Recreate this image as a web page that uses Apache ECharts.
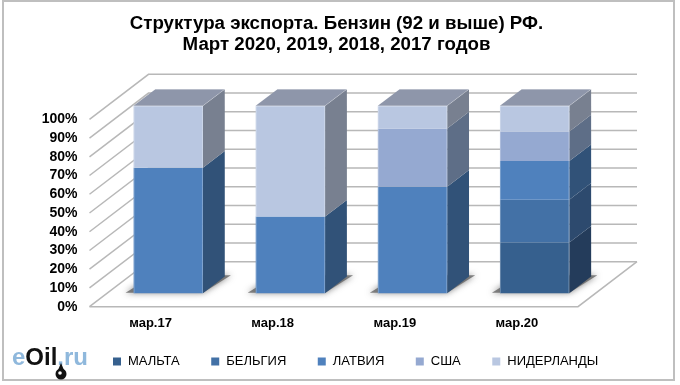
<!DOCTYPE html>
<html>
<head>
<meta charset="utf-8">
<title>Структура экспорта</title>
<script src="https://cdn.jsdelivr.net/npm/echarts@6/dist/echarts.min.js"></script>
<style>
  html, body { margin: 0; padding: 0; background: #fff; }
  #main { width: 680px; height: 385px; }
</style>
</head>
<body>
<div id="main"></div>
<script>
// данные
const categories = ['мар.17', 'мар.18', 'мар.19', 'мар.20']
const malta = [0, 0, 0, 27]
const belgium = [0, 0, 0, 22.9]
const latvia = [67, 40.9, 56.8, 20.6]
const usa = [0, 0, 31.1, 15.8]
const netherlands = [33, 59.1, 12.1, 13.7]

const layers = [
  { name: 'МАЛЬТА', values: malta, front: '#36608e', side: '#243c5b' },
  { name: 'БЕЛЬГИЯ', values: belgium, front: '#4371a6', side: '#2d4a6e' },
  { name: 'ЛАТВИЯ', values: latvia, front: '#4f81bd', side: '#315278' },
  { name: 'США', values: usa, front: '#95a9d1', side: '#5e6e87' },
  { name: 'НИДЕРЛАНДЫ', values: netherlands, front: '#b9c7e1', side: '#788090' },
]

// псевдо-3D: глубина пола и положение столбика на нём
const depthX = 59
const depthY = -45
const barShift = 0.3
const barDepth = 0.37
const barRatio = 0.568
const gridColor = '#b8b8b8'

function bandEdges(api) {
  const band = api.size([1, 0])[0]
  return {
    left: api.coord([0, 0])[0] - band / 2,
    right: api.coord([categories.length - 1, 0])[0] + band / 2,
  }
}

function renderWall(params, api) {
  const value = api.value(0)
  const y = api.coord([0, value])[1]
  const { left, right } = bandEdges(api)
  const style = { stroke: gridColor, lineWidth: 1.5, fill: null }
  const points = [
    [left, y],
    [left + depthX, y + depthY],
    [right + depthX, y + depthY],
  ]
  const children = [{ type: 'polyline', shape: { points }, style }]
  if (value === 0) {
    children.push({
      type: 'polyline',
      shape: {
        points: [
          [left, y],
          [right, y],
          [right + depthX, y + depthY],
        ],
      },
      style,
    })
  }
  return { type: 'group', children }
}

function renderShadow(params, api) {
  const [cx, y0] = api.coord([api.value(0), 0])
  const w = api.size([1, 0])[0] * barRatio
  const x = cx - w / 2 + depthX * barShift
  const y = y0 + depthY * barShift
  return {
    type: 'polygon',
    shape: {
      points: [
        [x - 8, y - 0.5],
        [x + w, y - 0.5],
        [x + w + 28, y - 18],
        [x + 20, y - 18],
      ],
    },
    style: {
      fill: 'rgba(100,100,100,0.8)',
      shadowBlur: 6,
      shadowColor: 'rgba(60,60,60,0.8)',
    },
  }
}

function renderLayer(layer) {
  return function (params, api) {
    const cat = api.value(0)
    const from = api.value(1)
    const to = api.value(2)
    if (to <= from) return null
    const cx = api.coord([cat, 0])[0]
    const w = api.size([1, 0])[0] * barRatio
    const sx = depthX * barShift
    const sy = depthY * barShift
    const dx = depthX * barDepth
    const dy = depthY * barDepth
    const x0 = cx - w / 2 + sx
    const x1 = x0 + w
    const yb = api.coord([cat, from])[1] + sy
    const yt = api.coord([cat, to])[1] + sy
    const children = [
      {
        type: 'polygon',
        shape: {
          points: [
            [x1, yb],
            [x1 + dx, yb + dy],
            [x1 + dx, yt + dy],
            [x1, yt],
          ],
        },
        style: { fill: layer.side },
      },
      {
        type: 'rect',
        shape: { x: x0, y: yt, width: w, height: yb - yt },
        style: { fill: layer.front },
      },
      // светлый скос по краям столбика
      {
        type: 'polyline',
        shape: {
          points: [
            [x0 + 0.5, yb],
            [x0 + 0.5, yt],
          ],
        },
        style: { stroke: 'rgba(255,255,255,0.25)', lineWidth: 1, fill: null },
      },
      {
        type: 'polyline',
        shape: {
          points: [
            [x1 - 0.5, yb],
            [x1 - 0.5, yt],
          ],
        },
        style: { stroke: 'rgba(255,255,255,0.25)', lineWidth: 1, fill: null },
      },
    ]
    if (to >= 99.9) {
      children.push(
        {
          type: 'polygon',
          shape: {
            points: [
              [x0, yt],
              [x1, yt],
              [x1 + dx, yt + dy],
              [x0 + dx, yt + dy],
            ],
          },
          style: { fill: '#8e96aa' },
        },
        {
          type: 'polyline',
          shape: {
            points: [
              [x0 + dx, yt + dy],
              [x1 + dx, yt + dy],
              [x1, yt],
            ],
          },
          style: { stroke: 'rgba(255,255,255,0.22)', lineWidth: 1, fill: null },
        },
        {
          type: 'polyline',
          shape: {
            points: [
              [x0, yt + 0.5],
              [x1, yt + 0.5],
            ],
          },
          style: { stroke: 'rgba(255,255,255,0.3)', lineWidth: 1, fill: null },
        }
      )
    }
    return { type: 'group', children }
  }
}

// накопленные значения для стопки
const running = categories.map(() => 0)
const layerSeries = layers.map((layer) => {
  const data = layer.values.map((v, i) => {
    const item = [i, running[i], running[i] + v]
    running[i] += v
    return item
  })
  return {
    name: layer.name,
    type: 'custom',
    silent: true,
    z: 5,
    renderItem: renderLayer(layer),
    itemStyle: { color: layer.front },
    encode: { x: 0, y: 2 },
    data,
  }
})

const option = {
  animation: false,
  backgroundColor: '#fff',
  textStyle: { fontFamily: '"Liberation Sans", Arial, sans-serif' },
  title: {
    text: 'Структура экспорта. Бензин (92 и выше) РФ.\nМарт 2020, 2019, 2018, 2017 годов',
    left: 331.5,
    top: 9,
    textAlign: 'center',
    textStyle: {
      fontSize: 18.7,
      fontWeight: 'bold',
      color: '#000',
      lineHeight: 20.5,
    },
  },
  legend: {
    left: 113,
    top: 355,
    padding: 0,
    icon: 'rect',
    itemWidth: 8,
    itemHeight: 8,
    itemGap: 31.5,
    textStyle: {
      fontSize: 13,
      color: '#000',
      padding: [0, 0, 0, 2],
    },
    data: layers.map((l) => l.name),
  },
  grid: { left: 89.5, right: 102, top: 119.3, bottom: 78.3 },
  xAxis: {
    type: 'category',
    data: categories,
    axisLine: { show: false },
    axisTick: { show: false },
    axisLabel: { fontSize: 13, fontWeight: 'bold', color: '#000', margin: 10 },
  },
  yAxis: {
    type: 'value',
    min: 0,
    max: 100,
    interval: 10,
    splitLine: { show: false },
    axisLine: { show: false },
    axisTick: { show: false },
    axisLabel: {
      formatter: '{value}%',
      fontSize: 14,
      fontWeight: 'bold',
      color: '#000',
      margin: 12,
    },
  },
  graphic: [
    // рамка
    {
      type: 'rect',
      shape: { x: 3, y: 1, width: 671, height: 379 },
      style: { fill: null, stroke: '#bfbfbf', lineWidth: 2 },
      z: 10,
    },
    // логотип
    {
      type: 'text',
      left: 12,
      top: 346,
      z: 10,
      style: {
        text: '{a|e}{b|Oil}{a|.ru}',
        rich: {
          a: { fontSize: 24, fontWeight: 'bold', fontFamily: '"Liberation Sans"', fill: '#8fb8dc' },
          b: { fontSize: 24, fontWeight: 'bold', fontFamily: '"Liberation Sans"', fill: '#111' },
        },
      },
    },
    {
      type: 'circle',
      shape: { cx: 61, cy: 374, r: 5.5 },
      style: { fill: '#111' },
      z: 11,
    },
    {
      type: 'polygon',
      shape: {
        points: [
          [58, 370],
          [61, 363],
          [64, 370],
        ],
      },
      style: { fill: '#111' },
      z: 11,
    },
    {
      type: 'circle',
      shape: { cx: 60, cy: 373, r: 1.8 },
      style: { fill: '#fff' },
      z: 12,
    },
  ],
  series: [
    {
      type: 'custom',
      silent: true,
      z: 1,
      renderItem: renderWall,
      encode: { y: 0 },
      data: [0, 10, 20, 30, 40, 50, 60, 70, 80, 90, 100].map((t) => [t]),
    },
    {
      type: 'custom',
      silent: true,
      z: 2,
      renderItem: renderShadow,
      encode: { x: 0 },
      data: categories.map((c, i) => [i]),
    },
  ].concat(layerSeries),
}

const myChart = echarts.init(document.getElementById('main'), null, { renderer: 'canvas' })
myChart.setOption(option)
</script>
</body>
</html>
